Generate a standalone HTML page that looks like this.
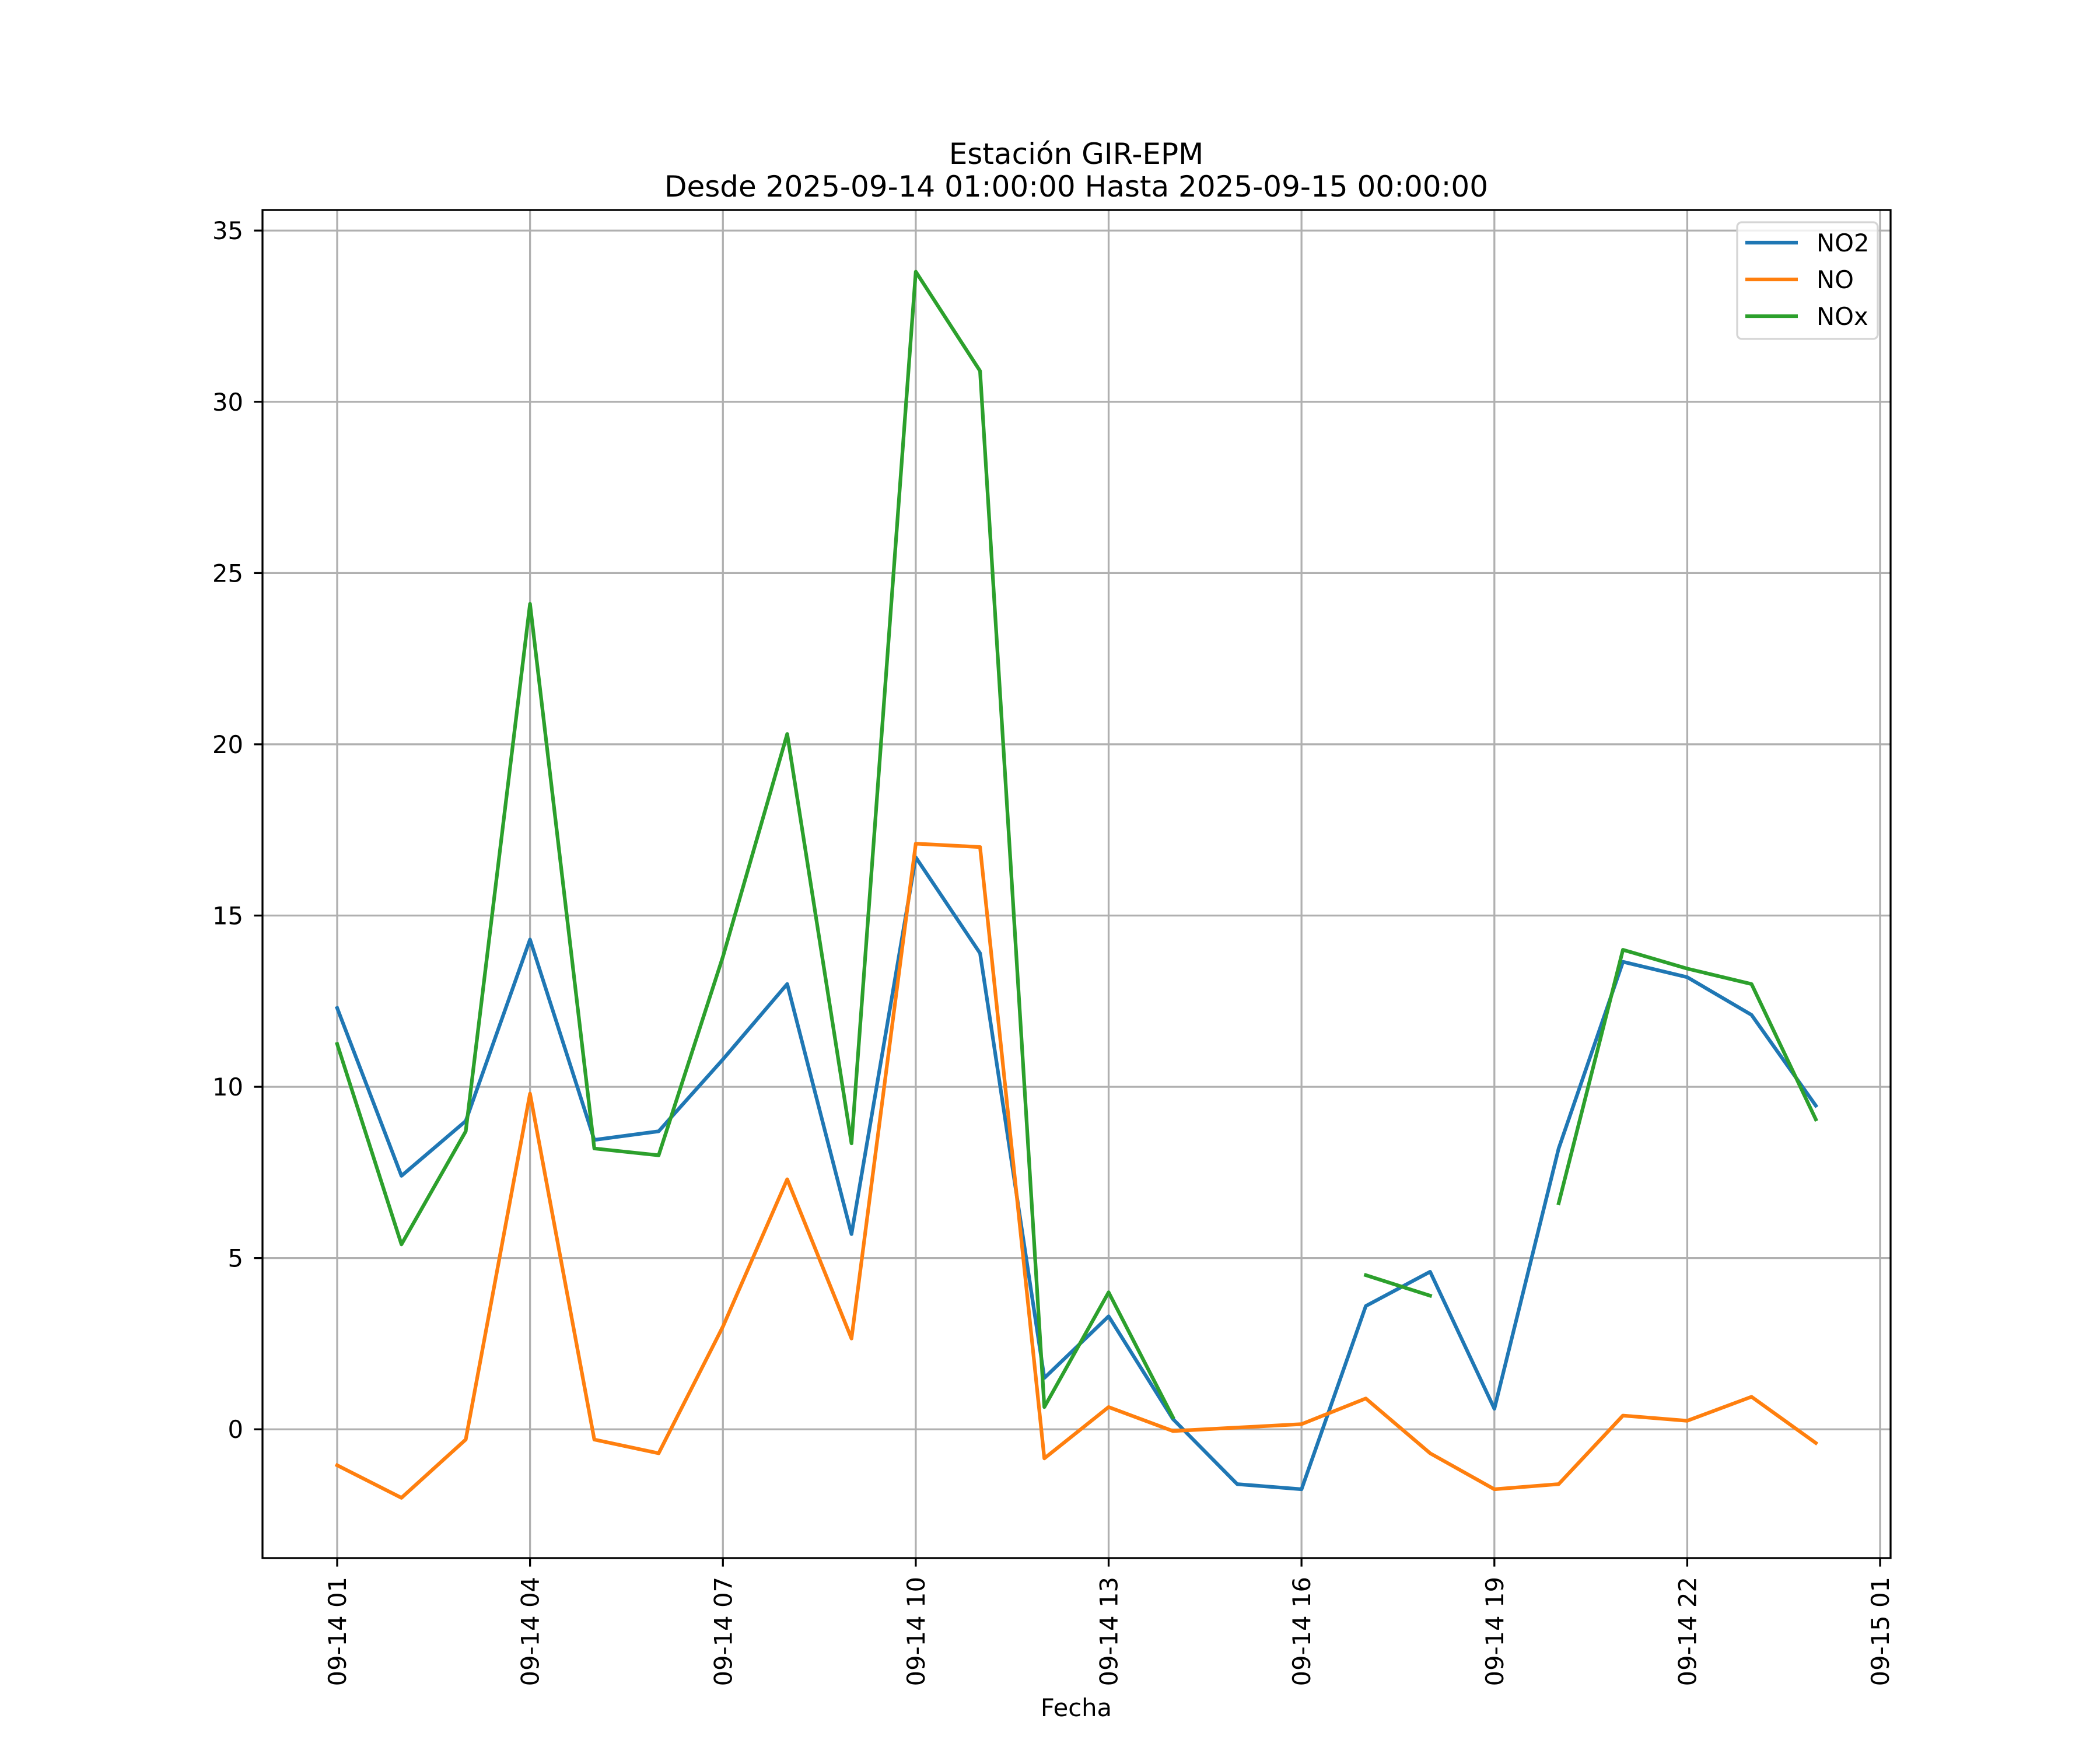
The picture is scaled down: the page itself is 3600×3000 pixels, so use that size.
<!DOCTYPE html>
<html><head><meta charset="utf-8"><style>
html,body{margin:0;padding:0;background:#fff;}
svg{display:block;font-family:"DejaVu Sans","Liberation Sans",sans-serif;}
</style></head><body>
<svg id="chart" width="3600" height="3000" viewBox="0 0 3600 3000">
<rect x="0" y="0" width="3600" height="3000" fill="#fff"/>
<text x="1845" y="281" font-size="50" text-anchor="middle">Estación GIR-EPM</text>
<text x="1845" y="337" font-size="50" text-anchor="middle">Desde 2025-09-14 01:00:00 Hasta 2025-09-15 00:00:00</text>
<g id="grid"></g>
<g id="series"></g>
<rect x="450" y="360" width="2791" height="2311" fill="none" stroke="#000" stroke-width="3.3"/>
<g id="axes"></g>
<text x="1845" y="2942" font-size="41.7" text-anchor="middle">Fecha</text>
<g>
<rect x="2978" y="381" width="241" height="200" rx="8" fill="#fff" fill-opacity="0.8" stroke="#d5d5d5" stroke-width="3.3"/>
<line x1="2992" y1="416" x2="3082" y2="416" stroke="#1f77b4" stroke-width="6.25"/>
<text x="3114" y="431" font-size="41.7">NO2</text>
<line x1="2992" y1="479" x2="3082" y2="479" stroke="#ff7f0e" stroke-width="6.25"/>
<text x="3114" y="494" font-size="41.7">NO</text>
<line x1="2992" y1="542" x2="3082" y2="542" stroke="#2ca02c" stroke-width="6.25"/>
<text x="3114" y="557" font-size="41.7">NOx</text>
</g>
</svg>
<script>
const hours = [1,2,3,4,5,6,7,8,9,10,11,12,13,14,15,16,17,18,19,20,21,22,23,24];
const no2 = [12.3,7.4,9.0,14.3,8.45,8.7,10.8,13.0,5.7,16.7,13.9,1.5,3.3,0.3,-1.6,-1.75,3.6,4.6,0.6,8.2,13.65,13.2,12.1,9.45];
const no = [-1.05,-2.0,-0.3,9.8,-0.3,-0.7,3.0,7.3,2.65,17.1,17.0,-0.85,0.65,-0.05,0.05,0.15,0.9,-0.7,-1.75,-1.6,0.4,0.25,0.95,-0.4];
const nox = [11.25,5.4,8.7,24.1,8.2,8.0,13.8,20.3,8.35,33.8,30.9,0.65,4.0,0.35,null,null,4.5,3.9,null,6.6,14.0,13.45,13.0,9.05];
const xTickHours = [1,4,7,10,13,16,19,22,25];
const xTickLabels = ["09-14 01","09-14 04","09-14 07","09-14 10","09-14 13","09-14 16","09-14 19","09-14 22","09-15 01"];
const yTicks = [0,5,10,15,20,25,30,35];

const L=450,R=3241,T=360,B=2671;
const xMin=-0.1615,xMax=25.163,yMin=-3.76,yMax=35.6;
const xs=h=>L+(h-xMin)/(xMax-xMin)*(R-L);
const ys=v=>B-(v-yMin)/(yMax-yMin)*(B-T);
const NS="http://www.w3.org/2000/svg";
function mk(tag,attrs,parent){const e=document.createElementNS(NS,tag);for(const k in attrs)e.setAttribute(k,attrs[k]);parent.appendChild(e);return e;}
const grid=document.getElementById('grid'),axes=document.getElementById('axes'),series=document.getElementById('series');
xTickHours.forEach((h,i)=>{
  const x=xs(h);
  const g=mk('line',{x1:x,x2:x,y1:T,y2:B,stroke:'#b0b0b0','stroke-width':3.3},grid);
  
  
  const t=mk('line',{x1:x,x2:x,y1:B,y2:B+14.6,stroke:'#000','stroke-width':3.3},axes);
  
  
  const lb=mk('text',{x:0,y:0,'font-size':41.7,'text-anchor':'end',transform:`translate(${x+15},${B+32}) rotate(-90)`},axes);
  lb.textContent=xTickLabels[i];
  
  
});
yTicks.forEach(v=>{
  const y=ys(v);
  const g=mk('line',{x1:L,x2:R,y1:y,y2:y,stroke:'#b0b0b0','stroke-width':3.3},grid);
  
  
  const t=mk('line',{x1:L-14.6,x2:L,y1:y,y2:y,stroke:'#000','stroke-width':3.3},axes);
  
  
  const lb=mk('text',{x:L-33,y:y+15,'font-size':41.7,'text-anchor':'end'},axes);
  lb.textContent=String(v);
  
  
});
function draw(vals,color,name){
  let segs=[],cur=[];
  vals.forEach((v,i)=>{if(v===null){if(cur.length)segs.push(cur);cur=[];}else cur.push(xs(hours[i]).toFixed(1)+','+ys(v).toFixed(1));});
  if(cur.length)segs.push(cur);
  segs.forEach(s=>{
    const p=mk('polyline',{points:s.join(' '),fill:'none',stroke:color,'stroke-width':6.25,'stroke-linejoin':'round','stroke-linecap':'square'},series);
    
    
  });
}
draw(no2,'#1f77b4','no2-line');
draw(no,'#ff7f0e','no-line');
draw(nox,'#2ca02c','nox-line');
</script>
</body></html>
